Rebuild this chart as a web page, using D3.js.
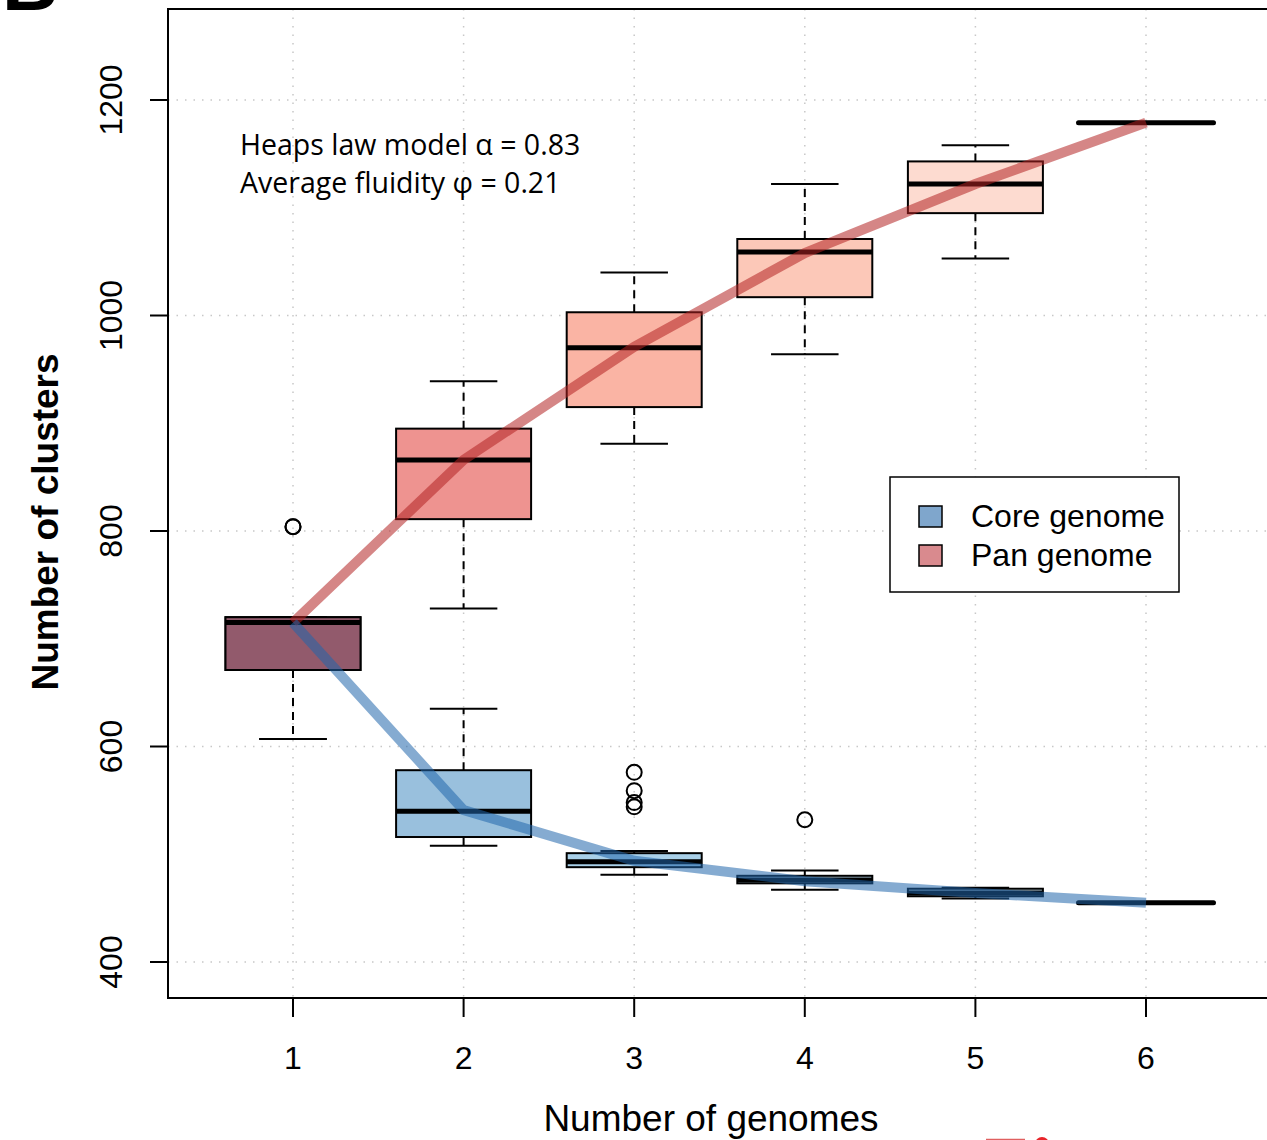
<!DOCTYPE html>
<html>
<head>
<meta charset="utf-8">
<script src="https://cdn.jsdelivr.net/npm/d3@7"></script>
<style>
body { margin: 0; background: #fff; }
svg { display: block; }
</style>
</head>
<body>
<svg id="chart" width="1267" height="1140"></svg>
<script>
// Data
var genomes = [1, 2, 3, 4, 5, 6];

var panLower = [607, 728, 881, 964, 1053, 1179];
var panQ1 = [671, 811, 915, 1017, 1095, 1179];
var panMedian = [715, 866, 970, 1059, 1122, 1179];
var panQ3 = [720, 895, 1003, 1071, 1143, 1179];
var panUpper = [720, 939, 1040, 1122, 1158, 1179];
var panOutliers = [[804], [], [], [], [], []];
var panCurve = [715, 866, 971, 1058, 1122, 1179];

var coreLower = [607, 508, 481, 467, 459, 455];
var coreQ1 = [671, 516, 488, 473, 461, 455];
var coreMedian = [715, 540, 493, 476, 464, 455];
var coreQ3 = [720, 578, 501, 480, 468, 455];
var coreUpper = [720, 635, 503, 485, 469, 455];
var coreOutliers = [[804], [], [576, 559, 548, 544], [532], [], []];
var coreCurve = [715, 541, 494, 475, 464, 455];

var yTicks = [400, 600, 800, 1000, 1200];
var legendLabels = ["Core genome", "Pan genome"];
var notes = ["Heaps law model \u03b1 = 0.83", "Average fluidity \u03c6 = 0.21"];

// Fill colours per box
var panFill = ["#925a6c", "#ee9390", "#fab4a4", "#fcc8b8", "#fddbd0", "#fee9e2"];
var coreFill = ["#925a6c", "#99c0dd", "#a9d0e8", "#b8d8ec", "#c6e0f0", "#d6e8f4"];

var svg = d3.select("#chart");
var plotLeft = 168, plotTop = 9, plotBottom = 998;
var axisFont = "'Liberation Sans', Arial, sans-serif";

var x = d3.scaleLinear().domain([1, 6]).range([293, 1146]);
var y = d3.scaleLinear().domain([400, 1200]).range([962, 100]);
var halfBox = 67.5;

// Grid
var grid = svg.append("g")
    .attr("stroke", "#c8c8c8")
    .attr("stroke-width", 1.5)
    .attr("stroke-dasharray", "1.5,7");
grid.selectAll(".gx").data(genomes).enter().append("line")
    .attr("x1", function(d) { return x(d); })
    .attr("x2", function(d) { return x(d); })
    .attr("y1", plotTop).attr("y2", plotBottom);
grid.selectAll(".gy").data(yTicks).enter().append("line")
    .attr("x1", plotLeft).attr("x2", 1267)
    .attr("y1", function(d) { return y(d); })
    .attr("y2", function(d) { return y(d); });

function drawBoxes(lower, q1, med, q3, upper, outliers, fills) {
    var g = svg.append("g");
    genomes.forEach(function(gn, i) {
        var cx = x(gn);
        var flat = lower[i] === upper[i];
        if (!flat) {
            // whiskers
            [[q3[i], upper[i]], [q1[i], lower[i]]].forEach(function(w) {
                if (w[0] === w[1]) return;
                g.append("line")
                    .attr("x1", cx).attr("x2", cx)
                    .attr("y1", y(w[0])).attr("y2", y(w[1]))
                    .attr("stroke", "#000").attr("stroke-width", 2)
                    .attr("stroke-dasharray", "8,6");
            });
            [upper[i], lower[i]].forEach(function(v) {
                g.append("line")
                    .attr("x1", cx - halfBox / 2).attr("x2", cx + halfBox / 2)
                    .attr("y1", y(v)).attr("y2", y(v))
                    .attr("stroke", "#000").attr("stroke-width", 2);
            });
            g.append("rect")
                .attr("x", cx - halfBox)
                .attr("y", y(q3[i]))
                .attr("width", halfBox * 2)
                .attr("height", y(q1[i]) - y(q3[i]))
                .attr("fill", fills[i])
                .attr("stroke", "#000").attr("stroke-width", 2);
        }
        g.append("line")
            .attr("x1", cx - halfBox).attr("x2", cx + halfBox)
            .attr("y1", y(med[i])).attr("y2", y(med[i]))
            .attr("stroke", "#000").attr("stroke-width", 5)
            .attr("stroke-linecap", flat ? "round" : "butt");
        outliers[i].forEach(function(v) {
            g.append("circle")
                .attr("cx", cx).attr("cy", y(v)).attr("r", 7.5)
                .attr("fill", "none")
                .attr("stroke", "#000").attr("stroke-width", 2);
        });
    });
}

drawBoxes(coreLower, coreQ1, coreMedian, coreQ3, coreUpper, coreOutliers, coreFill);
drawBoxes(panLower, panQ1, panMedian, panQ3, panUpper, panOutliers, panFill);

// Fitted curves
var line = d3.line()
    .x(function(d, i) { return x(genomes[i]); })
    .y(function(d) { return y(d); });

svg.append("path")
    .datum(panCurve)
    .attr("d", line)
    .attr("fill", "none")
    .attr("stroke", "#b22222").attr("stroke-opacity", 0.55)
    .attr("stroke-width", 10);

svg.append("path")
    .datum(coreCurve)
    .attr("d", line)
    .attr("fill", "none")
    .attr("stroke", "#2166ac").attr("stroke-opacity", 0.55)
    .attr("stroke-width", 10);

// Frame
svg.append("path")
    .attr("d", "M1290," + plotTop + "H" + plotLeft + "V" + plotBottom + "H1290")
    .attr("fill", "none")
    .attr("stroke", "#000").attr("stroke-width", 2);

// X axis
var xAxis = svg.append("g")
    .attr("font-family", axisFont)
    .attr("font-size", 32);
xAxis.selectAll("line").data(genomes).enter().append("line")
    .attr("x1", function(d) { return x(d); })
    .attr("x2", function(d) { return x(d); })
    .attr("y1", plotBottom).attr("y2", plotBottom + 19)
    .attr("stroke", "#000").attr("stroke-width", 2);
xAxis.selectAll("text").data(genomes).enter().append("text")
    .attr("x", function(d) { return x(d); })
    .attr("y", 1069)
    .attr("text-anchor", "middle")
    .text(function(d) { return d; });

// Y axis
var yAxis = svg.append("g")
    .attr("font-family", axisFont)
    .attr("font-size", 32);
yAxis.selectAll("line").data(yTicks).enter().append("line")
    .attr("x1", plotLeft - 18).attr("x2", plotLeft)
    .attr("y1", function(d) { return y(d); })
    .attr("y2", function(d) { return y(d); })
    .attr("stroke", "#000").attr("stroke-width", 2);
yAxis.selectAll("text").data(yTicks).enter().append("text")
    .attr("transform", function(d) { return "translate(122," + y(d) + ") rotate(-90)"; })
    .attr("text-anchor", "middle")
    .text(function(d) { return d; });

// Axis titles
svg.append("text")
    .attr("x", 711).attr("y", 1131)
    .attr("text-anchor", "middle")
    .attr("font-family", axisFont)
    .attr("font-size", 37)
    .text("Number of genomes");

svg.append("text")
    .attr("transform", "translate(58,522) rotate(-90)")
    .attr("text-anchor", "middle")
    .attr("font-family", axisFont)
    .attr("font-weight", "bold")
    .attr("font-size", 37)
    .text("Number of clusters");

// Annotation
svg.selectAll(".note").data(notes).enter().append("text")
    .attr("class", "note")
    .attr("x", 240)
    .attr("y", function(d, i) { return 155 + i * 38; })
    .attr("font-family", "'Open Sans', sans-serif")
    .attr("font-size", 28.5)
    .text(function(d) { return d; });

// Legend
var legend = svg.append("g");
legend.append("rect")
    .attr("x", 890).attr("y", 477)
    .attr("width", 289).attr("height", 115)
    .attr("fill", "#fff")
    .attr("stroke", "#000").attr("stroke-width", 1.5);
var legendFill = ["#7fa6cc", "#d98a8e"];
legendLabels.forEach(function(lab, i) {
    legend.append("rect")
        .attr("x", 919).attr("y", 506 + i * 39)
        .attr("width", 23).attr("height", 21)
        .attr("fill", legendFill[i])
        .attr("stroke", "#000").attr("stroke-width", 1.5);
    legend.append("text")
        .attr("x", 971).attr("y", 527 + i * 39)
        .attr("font-family", axisFont)
        .attr("font-size", 32)
        .text(lab);
});

// Cropped bits from neighbouring panels
svg.append("text")
    .attr("x", 2).attr("y", 10)
    .attr("font-family", axisFont)
    .attr("font-weight", "bold")
    .attr("font-size", 78)
    .text("B");
svg.append("line")
    .attr("x1", 986).attr("x2", 1025)
    .attr("y1", 1139.5).attr("y2", 1139.5)
    .attr("stroke", "#e06060").attr("stroke-width", 1.5);
svg.append("circle")
    .attr("cx", 1042).attr("cy", 1144).attr("r", 7)
    .attr("fill", "#e8242a");
</script>
</body>
</html>
